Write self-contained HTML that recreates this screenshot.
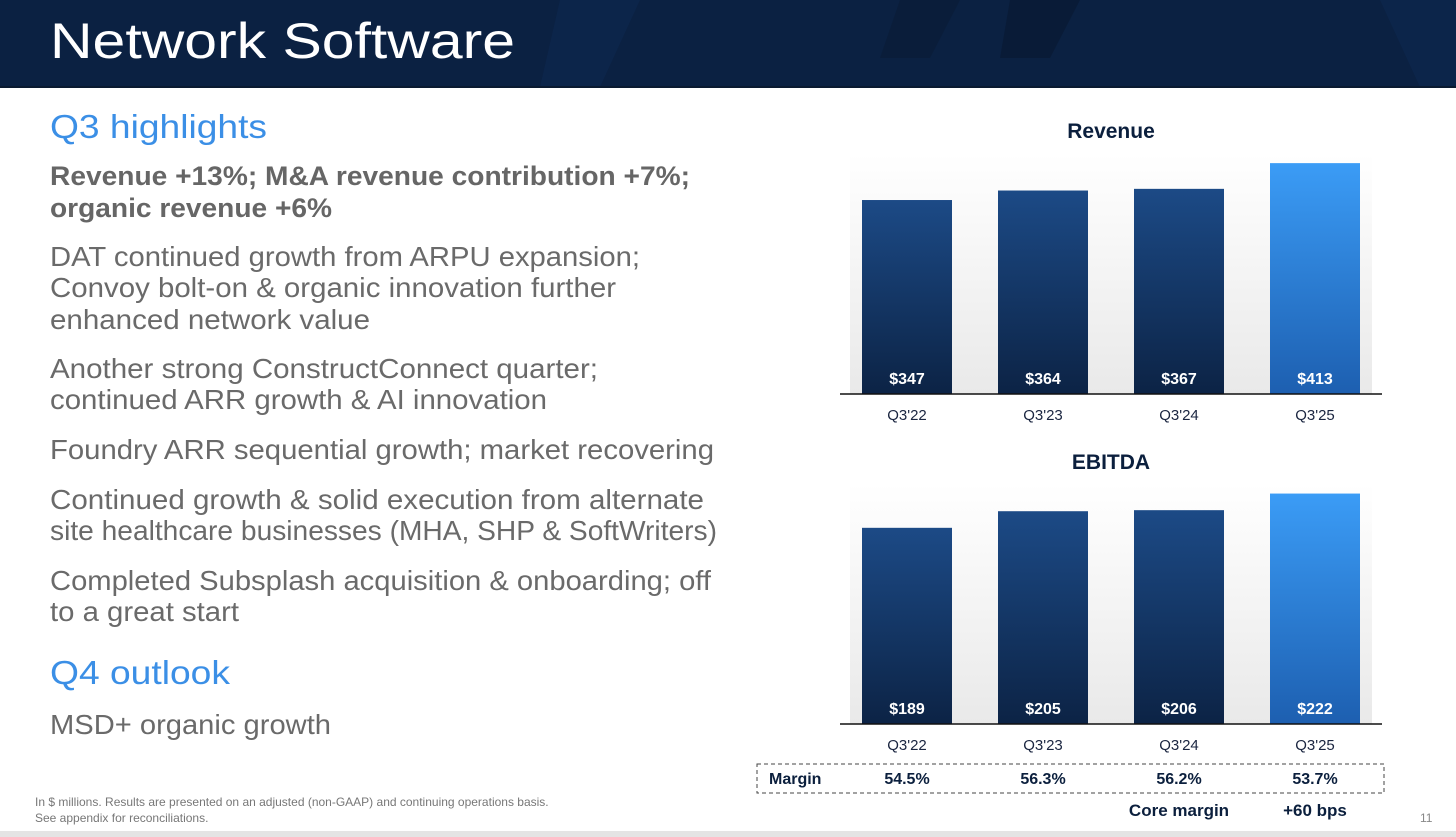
<!DOCTYPE html>
<html><head><meta charset="utf-8"><style>
body{margin:0;width:1456px;height:837px;overflow:hidden;background:#fff;font-family:"Liberation Sans",sans-serif}
svg{display:block}
</style></head><body>
<svg id="s" width="1456" height="837" viewBox="0 0 1456 837" xmlns="http://www.w3.org/2000/svg">
<defs>
<linearGradient id="gd" x1="0" y1="0" x2="0" y2="1"><stop offset="0" stop-color="#1c4a86"/><stop offset="1" stop-color="#0c2345"/></linearGradient>
<linearGradient id="gl" x1="0" y1="0" x2="0" y2="1"><stop offset="0" stop-color="#3b9cf6"/><stop offset="1" stop-color="#1d5fb0"/></linearGradient>
<linearGradient id="bg" x1="0" y1="0" x2="0" y2="1"><stop offset="0" stop-color="#fff"/><stop offset="1" stop-color="#e9e9e9"/></linearGradient>
</defs>
<g>
<rect x="0" y="0" width="1456" height="87" fill="#0b2142"/>
<polygon points="560,0 640,0 600,87 540,87" fill="#0e2850" opacity="0.6"/>
<polygon points="900,0 960,0 930,58 880,58" fill="#0a1c38" opacity="0.7"/>
<polygon points="1010,0 1080,0 1050,58 1000,58" fill="#081a33" opacity="0.7"/>
<polygon points="1380,0 1456,0 1456,87 1420,87" fill="#0e2850" opacity="0.6"/>
<rect x="0" y="86" width="1456" height="2" fill="#0a1a30"/>
<text x="50" y="58" font-size="50" fill="#fff" textLength="465">Network Software</text>
</g>
<g font-size="28" fill="#6a6a6a">
<text x="50" y="138" font-size="33" fill="#3b8fe6" textLength="217">Q3 highlights</text>
<text x="50" y="185" font-weight="bold" font-size="27" fill="#666" textLength="640">Revenue +13%; M&amp;A revenue contribution +7%;</text>
<text x="50" y="217" font-weight="bold" font-size="27" fill="#666" textLength="282">organic revenue +6%</text>
<text x="50" y="266" textLength="590">DAT continued growth from ARPU expansion;</text>
<text x="50" y="297" textLength="566">Convoy bolt-on &amp; organic innovation further</text>
<text x="50" y="329" textLength="320">enhanced network value</text>
<text x="50" y="378" textLength="548">Another strong ConstructConnect quarter;</text>
<text x="50" y="409" textLength="497">continued ARR growth &amp; AI innovation</text>
<text x="50" y="459" textLength="664">Foundry ARR sequential growth; market recovering</text>
<text x="50" y="509" textLength="654">Continued growth &amp; solid execution from alternate</text>
<text x="50" y="540" textLength="667">site healthcare businesses (MHA, SHP &amp; SoftWriters)</text>
<text x="50" y="590" textLength="661">Completed Subsplash acquisition &amp; onboarding; off</text>
<text x="50" y="621" textLength="189">to a great start</text>
<text x="50" y="684" font-size="33" fill="#3b8fe6" textLength="180">Q4 outlook</text>
<text x="50" y="734" textLength="281">MSD+ organic growth</text>
</g>
<g font-size="12" fill="#777">
<text x="35" y="806">In $ millions. Results are presented on an adjusted (non-GAAP) and continuing operations basis.</text>
<text x="35" y="822">See appendix for reconciliations.</text>
</g>
<text x="1420" y="822" font-size="12" fill="#888">11</text>
<rect x="0" y="831" width="1456" height="6" fill="#e4e4e4"/>
<g id="charts"></g>
</svg>
<script>
const categories = ["Q3'22","Q3'23","Q3'24","Q3'25"];
const revenueValues = [347,364,367,413];
const ebitdaValues = [189,205,206,222];
const marginValues = ["54.5%","56.3%","56.2%","53.7%"];
document.querySelectorAll('text[textLength]').forEach(t=>t.setAttribute('lengthAdjust','spacingAndGlyphs'));
const NS="http://www.w3.org/2000/svg";
const g=document.getElementById('charts');
function mk(t,a,p){const e=document.createElementNS(NS,t);for(const k in a)e.setAttribute(k,a[k]);(p||g).appendChild(e);return e;}
const xBar=i=>862+i*136, barW=90;
function chart(title,vals,base,scale,titleY,name){
  const grp=mk('g',{});
  
  
  mk('rect',{x:850,y:base-240,width:522,height:240,fill:'url(#bg)'},grp);
  const t=mk('text',{x:1111,y:titleY,'font-size':21,'font-weight':'bold',fill:'#0b1f3d','text-anchor':'middle'},grp);
  t.textContent=title;
  
  
  vals.forEach((v,i)=>{
    const h=v*scale;
    const r=mk('rect',{x:xBar(i),y:base-h,width:barW,height:h,fill:i===3?'url(#gl)':'url(#gd)'},grp);
    
    
    const l=mk('text',{x:xBar(i)+barW/2,y:base-10,'font-size':16,'font-weight':'bold',fill:'#fff','text-anchor':'middle'},grp);
    l.textContent='$'+v;
    
    
    const c=mk('text',{x:xBar(i)+barW/2,y:base+26,'font-size':15,fill:'#1a2540','text-anchor':'middle'},grp);
    c.textContent=categories[i];
    
    
  });
  const ax=mk('line',{x1:840,x2:1382,y1:base,y2:base,stroke:'#111','stroke-width':1.5},grp);
  
  
}
chart('Revenue',revenueValues,394,0.559,138,'revenue-chart');
chart('EBITDA',ebitdaValues,724,1.038,469,'ebitda-chart');
const mb=mk('rect',{x:757,y:764,width:627,height:29,fill:'none',stroke:'#444','stroke-dasharray':'4,3','stroke-width':1});


const ml=mk('text',{x:769,y:784,'font-size':16,'font-weight':'bold',fill:'#0b1f3d'});
ml.textContent='Margin';


marginValues.forEach((m,i)=>{
  const t=mk('text',{x:xBar(i)+barW/2,y:784,'font-size':16,'font-weight':'bold',fill:'#0b1f3d','text-anchor':'middle'});
  t.textContent=m;
  
  
});
const cm=mk('text',{x:1179,y:816,'font-size':17,'font-weight':'bold',fill:'#0b1f3d','text-anchor':'middle'});
cm.textContent='Core margin';


const cv=mk('text',{x:1315,y:816,'font-size':17,'font-weight':'bold',fill:'#0b1f3d','text-anchor':'middle'});
cv.textContent='+60 bps';


</script>
</body></html>
